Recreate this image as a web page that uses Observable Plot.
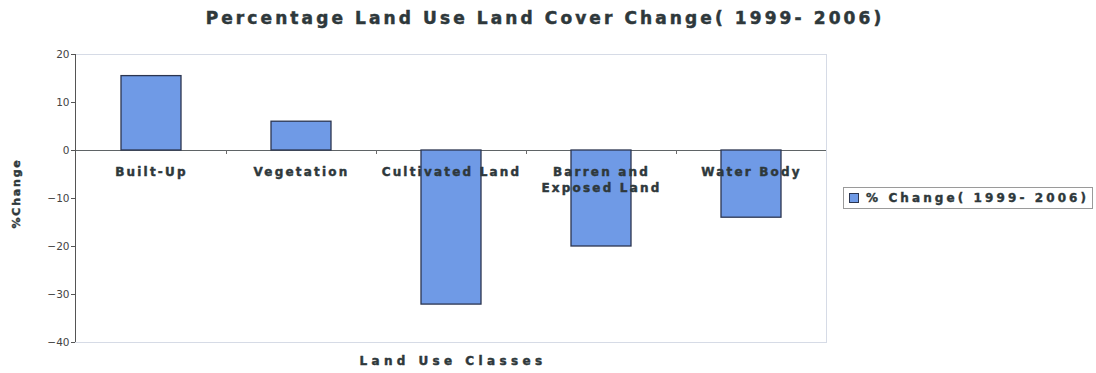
<!DOCTYPE html>
<html>
<head>
<meta charset="utf-8">
<script src="https://cdn.jsdelivr.net/npm/d3@7"></script>
<script src="https://cdn.jsdelivr.net/npm/@observablehq/plot@0.6"></script>
<style>
  html, body { margin: 0; padding: 0; background: #fff; }
  #chart { position: relative; width: 1096px; height: 373px; font-family: "DejaVu Sans", sans-serif; color: #2e383b; }
  #title { height: 40px; line-height: 36px; text-align: center; font-weight: bold; font-size: 17px; letter-spacing: 3.1px; width: 1096px; -webkit-text-stroke: 0.5px #2e383b; }
  #title span { position: relative; left: -3px; }
  #legend { position: absolute; left: 843px; top: 187px; width: 250px; height: 22px; border: 1px solid #9a9a9a; box-sizing: border-box; display: flex; align-items: center; font-weight: bold; font-size: 12px; letter-spacing: 3.1px; white-space: nowrap; -webkit-text-stroke: 0.4px #2e383b; }
  #legend i { display: inline-block; width: 8px; height: 8px; background: #6f9ae6; border: 1px solid #2b3550; margin: 0 7px 0 5px; flex: none; -webkit-text-stroke: 0; }
  g[aria-description="class labels"] text { letter-spacing: 2.2px; }
  g[aria-description="x title"] text { letter-spacing: 4.4px; }
  g[aria-description="y title"] text { letter-spacing: 1.8px; }
</style>
</head>
<body>
<div id="chart">
  <div id="title"><span>Percentage Land Use Land Cover Change( 1999- 2006)</span></div>
  <div id="legend"><i></i><span></span></div>
</div>
<script>
// Land use classes and their percentage change between 1999 and 2006
const classes = ["Built-Up", "Vegetation", "Cultivated Land", "Barren and\nExposed Land", "Water Body"];
const change = [15.5, 6.0, -32.1, -20.0, -14.0];
const yTicks = [-40, -30, -20, -10, 0, 10, 20];
const seriesName = "% Change( 1999- 2006)";

const rows = classes.map((c, i) => ({cls: c, value: change[i]}));
const ink = "#2e383b";

// small tick marks on the zero line between neighbouring classes
function categoryDividers(index, scales) {
  const x = scales.x, y = scales.y;
  const bw = typeof x.bandwidth === "function" ? x.bandwidth() : 0;
  const g = d3.create("svg:g").attr("stroke", "#6b6b6b").attr("stroke-width", 1);
  for (let i = 0; i < classes.length - 1; i++) {
    const xm = Math.round((x(classes[i]) + x(classes[i + 1])) / 2 + bw / 2) + 0.5;
    g.append("line").attr("x1", xm).attr("x2", xm).attr("y1", y(0)).attr("y2", y(0) + 4);
  }
  return g.node();
}

// heavy bold lettering shared by the chart's text labels
const heavy = {fontWeight: "bold", fill: ink, stroke: ink, strokeWidth: 0.45};

const chart = Plot.plot({
  width: 1096,
  height: 333,
  marginLeft: 75,
  marginRight: 270,
  marginTop: 14,
  marginBottom: 31,
  style: {fontFamily: "DejaVu Sans, sans-serif", color: ink, background: "transparent"},
  x: {domain: classes, paddingInner: 0.6, paddingOuter: 0.3, axis: null},
  y: {domain: [-40, 20], axis: null},
  marks: [
    Plot.frame({stroke: "#d6dbe6"}),
    Plot.ruleY([0], {stroke: "#5f6466", strokeWidth: 1.2}),
    Plot.barY(rows, {x: "cls", y: "value", fill: "#6f9ae6", stroke: "#2b3550", strokeWidth: 1.3}),
    categoryDividers,
    Plot.axisY({
      ticks: yTicks, tickSize: 4, tickPadding: 2, stroke: "#555", fill: "#444",
      fontSize: 10.5, label: null
    }),
    // class labels hang just under the zero line
    Plot.text(rows, {
      x: "cls", y: () => 0, text: "cls", dy: 14, lineAnchor: "top", lineHeight: 1.35,
      fontSize: 12, textAnchor: "middle", ariaDescription: "class labels", ...heavy
    }),
    Plot.text(["Land Use Classes"], {
      frameAnchor: "bottom", dy: 22, dx: 2, fontSize: 12, ariaDescription: "x title", ...heavy
    }),
    Plot.text(["%Change"], {
      frameAnchor: "left", dx: -59, dy: 30, rotate: -90, fontSize: 11, ariaDescription: "y title", ...heavy
    })
  ]
});

// vertical axis line along the left edge of the plot area
const svg = d3.select(chart);
svg.append("line")
  .attr("x1", 75.5).attr("x2", 75.5).attr("y1", 14).attr("y2", 302)
  .attr("stroke", "#555");

document.getElementById("chart").appendChild(chart);
document.querySelector("#legend span").textContent = seriesName;
</script>
</body>
</html>
